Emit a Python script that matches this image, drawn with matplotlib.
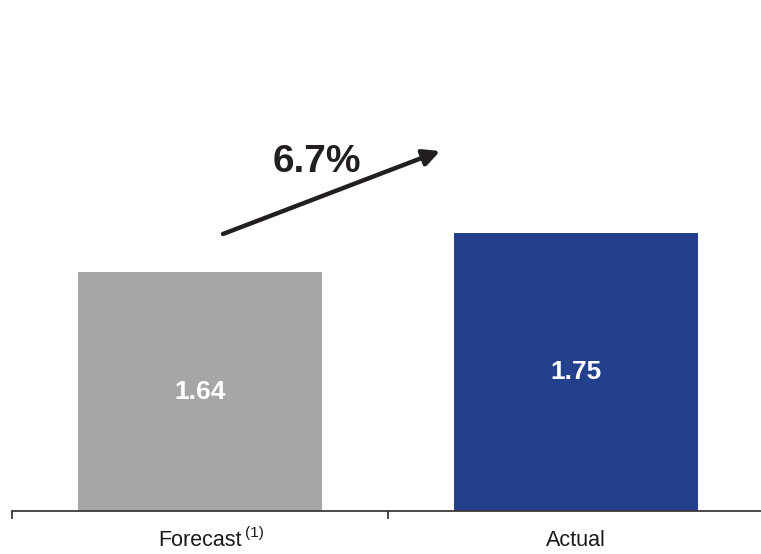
import matplotlib.pyplot as plt
import matplotlib.patheffects as pe

categories = ["Forecast", "Actual"]
values = [1.64, 1.75]
value_labels = ["1.64", "1.75"]
growth_label = "6.7%"
footnote = "(1)"

colors = ["#A6A6A6", "#22408C"]

plt.rcParams['font.family'] = ['Liberation Sans', 'DejaVu Sans']

fig = plt.figure(figsize=(7.61, 5.54), dpi=100)
ax = fig.add_axes([12 / 761, 43 / 554, 752 / 761, 511 / 554])

x = list(range(len(categories)))
bars = ax.bar(x, values, width=0.65, color=colors, zorder=2)

ax.set_xlim(-0.5, 1.5)
ax.set_ylim(0.98, 2.393)

for b, lab in zip(bars, value_labels):
    ymin = ax.get_ylim()[0]
    ax.text(b.get_x() + b.get_width() / 2, (ymin + b.get_height()) / 2, lab,
            ha='center', va='center', color='white', fontsize=19, fontweight='bold')

# axis styling
for s in ['top', 'right', 'left']:
    ax.spines[s].set_visible(False)
ax.spines['bottom'].set_color('#3a3a3a')
ax.spines['bottom'].set_linewidth(1.3)
ax.set_yticks([])
ax.set_xticks(x)
ax.set_xticklabels(categories, fontsize=15.5, color='#1a1a1a')
ax.tick_params(axis='x', which='major', length=0, pad=14)
ax.set_xticks([-0.5, 0.5, 1.5], minor=True)
ax.tick_params(axis='x', which='minor', length=6, width=1.3, color='#3a3a3a')

# footnote superscript on first label
fig.canvas.draw()
lbl = ax.get_xticklabels()[0]
ax.annotate(footnote, xy=(1, 1), xycoords=lbl, xytext=(2, 3),
            textcoords='offset points', ha='left', va='top', fontsize=11,
            color='#1a1a1a')

# growth arrow
shadow = [pe.SimplePatchShadow(offset=(1.5, -1.5), shadow_rgbFace='#999999', alpha=0.5),
          pe.Normal()]
ax.annotate("", xy=((440 - 12) / 752, 1 - 151 / 511),
            xytext=((223 - 12) / 752, 1 - 234 / 511),
            xycoords='axes fraction', textcoords='axes fraction',
            arrowprops=dict(arrowstyle='-|>,head_length=1.0,head_width=0.5',
                            color='#231F20', lw=3.2, shrinkA=0, shrinkB=0,
                            path_effects=shadow))
ax.text((317 - 12) / 752, 1 - 162 / 511, growth_label, transform=ax.transAxes,
        ha='center', va='center', fontsize=28, fontweight='bold', color='#231F20')

fig.savefig("out.png", dpi=100)
